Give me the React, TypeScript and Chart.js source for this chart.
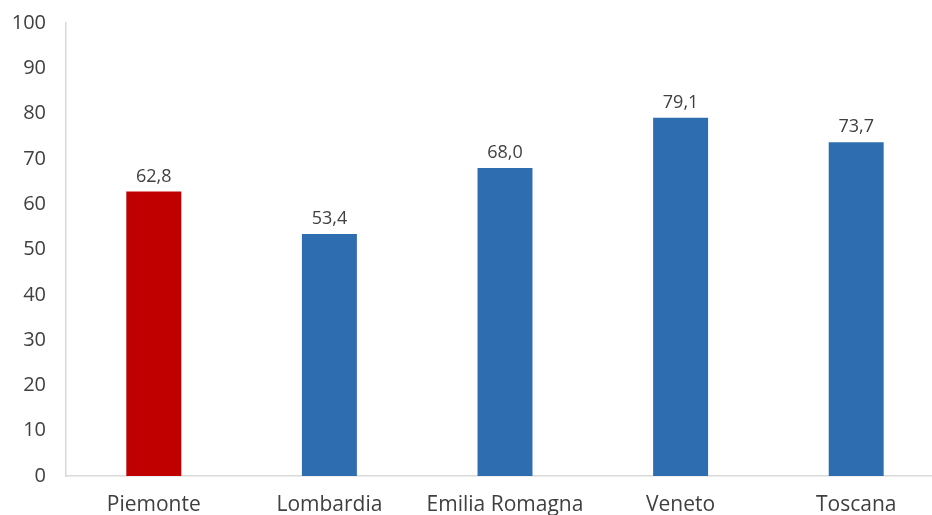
import React, { useEffect, useRef } from "react";
import { Chart, registerables } from "chart.js";

Chart.register(...registerables);

const categories = ["Piemonte", "Lombardia", "Emilia Romagna", "Veneto", "Toscana"];
const values = [62.8, 53.4, 68.0, 79.1, 73.7];
const barColors = ["#C00000", "#2E6DB0", "#2E6DB0", "#2E6DB0", "#2E6DB0"];

const FONT = "'Open Sans', 'DejaVu Sans', sans-serif";
const TEXT = "#404040";

const labelPlugin = {
  id: "barLabels",
  afterDatasetsDraw(chart: any) {
    const ctx = chart.ctx;
    const meta = chart.getDatasetMeta(0);
    ctx.save();
    ctx.font = `18px ${FONT}`;
    ctx.fillStyle = TEXT;
    ctx.textAlign = "center";
    ctx.textBaseline = "alphabetic";
    meta.data.forEach((bar: any, i: number) => {
      const v = values[i].toFixed(1).replace(".", ",");
      ctx.fillText(v, bar.x, bar.y - 10);
    });
    ctx.restore();
  },
};

export default function App() {
  const ref = useRef<HTMLCanvasElement>(null);
  useEffect(() => {
    if (!ref.current) return;
    const chart = new Chart(ref.current, {
      type: "bar",
      data: {
        labels: categories,
        datasets: [
          {
            data: values,
            backgroundColor: barColors,
            barPercentage: 1,
            categoryPercentage: 0.313,
          },
        ],
      },
      options: {
        animation: false,
        responsive: false,
        maintainAspectRatio: false,
        layout: { padding: { top: 23, right: 6, left: 0, bottom: 0 } },
        plugins: { legend: { display: false }, tooltip: { enabled: false } },
        scales: {
          x: {
            grid: { display: false, drawTicks: false },
            border: { display: true, color: "#d9d9d9", width: 1.5 },
            ticks: { color: TEXT, font: { family: FONT, size: 21 }, padding: 16, maxRotation: 0, autoSkip: false },
            afterFit(scale: any) {
              scale.height = 39;
              scale.paddingLeft = 0;
              scale.paddingRight = 0;
            },
          },
          y: {
            min: 0,
            max: 100,
            grid: { display: false, drawTicks: false },
            border: { display: true, color: "#d9d9d9", width: 1.5 },
            ticks: { stepSize: 10, color: TEXT, font: { family: FONT, size: 20 }, padding: 20 },
            afterFit(scale: any) {
              scale.width = 66;
              scale.paddingTop = 0;
              scale.paddingBottom = 0;
            },
          },
        },
      },
      plugins: [labelPlugin],
    });
    return () => chart.destroy();
  }, []);
  return (
    <div style={{ position: "fixed", left: 0, top: 0, width: 932, height: 515, overflow: "hidden" }}>
      <canvas ref={ref} width={950} height={515} style={{ display: "block" }} />
    </div>
  );
}
